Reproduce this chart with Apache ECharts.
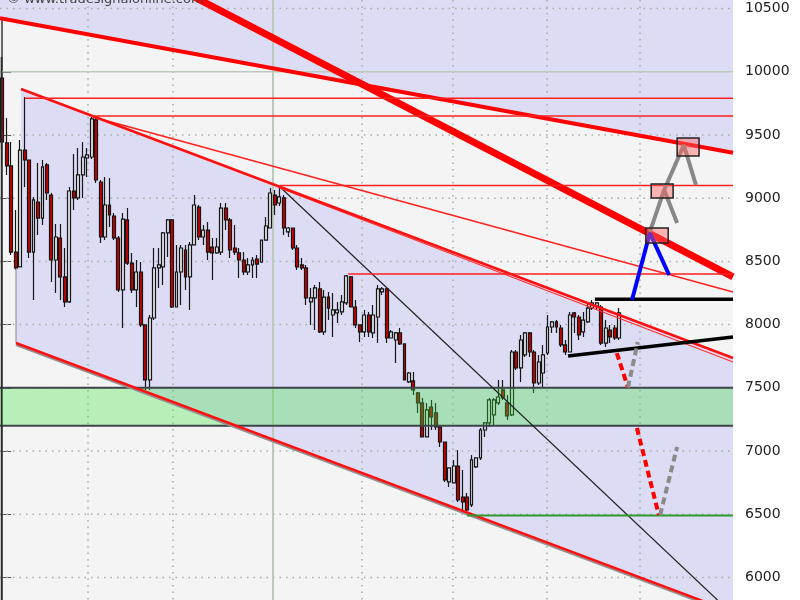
<!DOCTYPE html>
<html><head><meta charset="utf-8">
<script src="https://cdn.jsdelivr.net/npm/echarts@6/dist/echarts.min.js"></script>
<style>html,body{margin:0;padding:0;background:#fff}#c{width:800px;height:600px}</style>
</head><body><div id="c"></div>
<script>
// ---- candle data (one per session) ----
const opens  = [9951,9437,9255,8574,8456,9381,9302,8574,8970,8843,9263,9025,8511,8685,8377,8179,9057,9002,9184,9318,9326,9619,9128,8693,8946,8859,8685,8274,8828,8487,8274,8416,7997,7562,8052,8448,8456,8725,8828,8139,8416,8590,8377,8630,8930,8693,8748,8614,8567,8574,8922,8828,8606,8567,8511,8416,8472,8519,8495,8669,8764,9025,8962,9002,8733,8764,8606,8472,8448,8179,8211,8282,7942,8218,8076,8092,8100,8171,8377,8139,7997,7942,8076,7934,8060,8258,8282,7894,7878,7934,7847,7546,7554,7459,7380,7111,7348,7301,7190,7071,6755,6747,6881,6636,6636,6573,6874,6945,7166,7222,7285,7380,7483,7380,7285,7783,7657,7760,7934,7783,7538,7617,7775,7981,8021,7973,7839,7783,8092,8060,7942,8021,8131,8147,8139,7854,7957,7973,7894];
const highs  = [10117,9635,9445,8907,9460,9801,9302,9010,9279,9302,9279,9041,8796,8796,8606,9089,9350,9397,9445,9397,9642,9635,9144,9168,9160,8883,8701,8883,8922,8567,8511,8495,7997,8076,8606,8606,8733,8836,8836,8630,8630,8630,8654,9025,8946,8788,8812,8685,8685,8962,8962,8843,8788,8606,8574,8527,8535,8551,8669,8851,9081,9065,9089,9025,8772,8764,8630,8527,8472,8290,8313,8337,8274,8258,8250,8179,8234,8393,8385,8195,7997,8116,8100,8155,8313,8298,8290,7957,7942,7973,7847,7625,7625,7467,7419,7380,7404,7380,7190,7071,6866,6929,7008,6850,6668,6969,6945,7182,7230,7419,7419,7562,7562,7443,7799,7799,7918,7942,7942,7799,7760,7839,8076,8029,8036,7997,7878,8100,8100,8076,8100,8171,8195,8179,8155,8036,7997,7997,8131];
const lows   = [9381,9184,8551,8432,8456,9089,8527,8195,8709,8788,8986,8337,8250,8195,8139,8171,8907,8986,9002,9168,9310,9120,8646,8669,8772,8669,8258,7973,8472,8250,8139,7981,7483,7483,8036,8290,8313,8535,8131,8139,8155,8274,8116,8630,8669,8630,8511,8353,8560,8551,8748,8527,8551,8369,8393,8393,8369,8369,8487,8669,8764,8867,8938,8709,8693,8590,8432,8432,8155,7997,7957,7934,7918,8036,7902,8013,8076,8155,8139,7973,7862,7902,7902,7894,7854,8234,7854,7894,7696,7839,7562,7538,7443,7301,7111,7111,7166,7166,7031,6755,6716,6747,6597,6518,6518,6557,6866,6929,7111,7190,7206,7364,7404,7246,7277,7641,7546,7744,7744,7459,7522,7498,7760,7934,7934,7823,7760,7783,7934,7878,7902,8013,8116,8116,7839,7823,7854,7878,7878];
const closes = [9445,9255,8574,8448,9381,9302,8574,8986,8843,9247,9041,8511,8693,8377,8179,9057,9002,9184,9326,9342,9627,9144,8693,8946,8867,8685,8274,8835,8487,8274,8416,7997,7562,8052,8448,8472,8725,8828,8139,8416,8606,8377,8630,8946,8693,8748,8574,8567,8614,8922,8828,8590,8574,8511,8416,8472,8511,8479,8669,8780,9041,8946,9010,8764,8764,8606,8456,8448,8211,8211,8290,7942,8218,8131,8116,8116,8179,8385,8139,7997,7942,8076,7942,8076,8282,8282,7894,7942,7934,7847,7562,7617,7483,7380,7111,7325,7269,7190,7071,6771,6866,6881,6612,6597,6533,6929,6945,7166,7222,7404,7404,7427,7419,7277,7783,7657,7878,7934,7783,7538,7704,7760,7981,8021,7981,7839,7783,8076,8060,7918,8036,8131,8171,8171,7854,7973,7902,7894,8092];

// ---- axis ----
const yMin = 5821, yMax = 10568;
const xMin = -0.5, xMax = 163.5;
const priceTicks = [6000,6500,7000,7500,8000,8500,9000,9500,10000,10500];
const dottedLevels = [6000,6500,7000,7500,8000,8500,9000,9500,10500];
const solidLevels = [10000];
const monthLines = [19.19, 38.2, 80.5, 100.85, 121.9, 142.7];
const yearLines = [60.58];

// ---- drawings (session index, price) ----
const topZone = [[-0.5,10423],[163.5,9359],[163.5,10568],[-0.5,10568]];
const channelZone = [[4.2,9864],[163.5,7736],[163.5,5723],[3.08,7854],[3.08,8448],[4.2,8448]];
const upperRedLine = [[-0.5,10423],[163.5,9359]];
const steepRedLine = [[30,10830],[163.5,8377]];
const channelTop = [[4.2,9864],[163.5,7736]];
const channelTop2 = [[62.1,9081],[163.5,7704]];
const fanLine = [[20.3,9642],[163.5,8258]];
const channelBottom = [[3.08,7854],[163.5,5723]];
const channelBottomShadow = [[3.08,7838],[163.5,5707]];
const channelEdge = [[3.08,8448],[3.08,7854]];
const leftEdge = [[-0.16,10117],[-0.16,5700]];
const diagBlack = [[62.4,9081],[163.5,5705]];
const hLevels = [9790, 9650, 9100, 8400];
const hStarts = [5, 20.3, 62.1, 77.4];
const supportLevel = 6490, supportStart = 104;
const breakoutLevel = 8200, breakoutStart = 132.6;
const risingSupport = [[126.6,7752],[163.5,7902]];
const greenZone = [7200, 7500];
const bluePath = [[140.9,8195],[144.9,8725],[149.2,8392]];
const greyPath1 = [[144.9,8733],[148.1,9065],[152.5,9421],[155.2,9105]];
const greyPath2 = [[148.1,9065],[151.0,8804]];
const redDash1 = [[137.5,7775],[140.0,7502]];
const redDash2 = [[142.0,7182],[146.9,6494]];
const greyDash1 = [[140.0,7502],[142.2,7862]];
const greyDash2 = [[147.2,6494],[151.0,7032]];
const targetBoxes = [[144.0,8764,149.0,8646],[145.2,9112,150.1,9002],[151.0,9476,155.9,9334]];

const candleData = opens.map((o,i)=>[i, o, closes[i], lows[i], highs[i]]);

function seg(data, color, width, z, dash) {
  return {type:'line', data:data, symbol:'none', showSymbol:false, z:z, silent:true, clip:true,
    lineStyle:{color:color, width:width, type: dash || 'solid', cap:'butt'}};
}
function polySeries(polys, color, z) {
  return {type:'custom', z:z, silent:true,
    data: polys.map((p,i)=>[p[0][0], p[0][1], i]),
    renderItem: function(params, api){
      const pts = polys[params.dataIndex].map(p=>api.coord(p));
      return {type:'polygon', shape:{points:pts}, style:{fill:color}};
    }};
}
function hGridSeries(levels, style, z) {
  return {type:'custom', z:z, silent:true, data: levels.map(v=>[0,v]),
    renderItem: function(params, api){
      const cs = params.coordSys; const y = api.coord([0, api.value(1)])[1];
      return {type:'line', shape:{x1:cs.x, y1:y, x2:cs.x+cs.width, y2:y}, style:style};
    }};
}
function vGridSeries(xs, style, z) {
  return {type:'custom', z:z, silent:true, data: xs.map(v=>[v,8000]),
    renderItem: function(params, api){
      const cs = params.coordSys; const x = api.coord([api.value(0), 8000])[0];
      return {type:'line', shape:{x1:x, y1:cs.y, x2:x, y2:cs.y+cs.height}, style:style};
    }};
}

const series = [
  polySeries([topZone, channelZone], '#dcdcf4', 1),
  hGridSeries(dottedLevels, {stroke:'#a4b0a4', lineWidth:1.5, lineDash:[1.5,5]}, 2),
  vGridSeries(monthLines, {stroke:'#a4b0a4', lineWidth:1.5, lineDash:[1.5,5]}, 2),
  hGridSeries(solidLevels, {stroke:'#bccabc', lineWidth:1.5}, 2),
  vGridSeries(yearLines, {stroke:'#bccabc', lineWidth:2}, 2),
  {type:'candlestick', z:3, silent:true, data:candleData, encode:{x:0, y:[1,2,3,4]}, barWidth:3.4,
    itemStyle:{color:'#e2e2ec', color0:'#c40000', borderColor:'#151515', borderColor0:'#151515', borderWidth:1.2}},
  {type:'custom', z:4, silent:true, data:[[xMin, greenZone[1], xMax, greenZone[0]]],
    renderItem: function(params, api){
      const p1 = api.coord([api.value(0), api.value(1)]);
      const p2 = api.coord([api.value(2), api.value(3)]);
      return {type:'group', children:[
        {type:'rect', shape:{x:p1[0], y:p1[1], width:p2[0]-p1[0], height:p2[1]-p1[1]}, style:{fill:'rgba(60,230,60,0.32)'}},
        {type:'line', shape:{x1:p1[0], y1:p1[1], x2:p2[0], y2:p1[1]}, style:{stroke:'#3c4448', lineWidth:2}},
        {type:'line', shape:{x1:p1[0], y1:p2[1], x2:p2[0], y2:p2[1]}, style:{stroke:'#3c4448', lineWidth:2}}
      ]};
    }},
  seg(leftEdge, '#2a2a2a', 1.5, 5),
  seg(channelEdge, '#8a8a8a', 1, 5),
  seg(diagBlack, '#222222', 1.2, 5),
  seg(channelBottomShadow, '#909090', 2, 5),
  seg(channelBottom, '#ff1010', 2.5, 5),
  seg(fanLine, '#ff2020', 1.5, 5),
  seg(channelTop2, '#ff3030', 1.2, 5),
  seg(channelTop, '#ff1010', 2.6, 5),
  seg(upperRedLine, '#ff0000', 4, 5),
  seg(steepRedLine, '#ff0000', 7, 5)
];
hLevels.forEach((v,i)=>series.push(seg([[hStarts[i], v],[xMax, v]], '#ff2020', 1.5, 5)));
series.push(seg([[supportStart, supportLevel],[xMax, supportLevel]], '#2e9a2e', 2, 5));
series.push(seg([[breakoutStart, breakoutLevel],[xMax, breakoutLevel]], '#000000', 3.5, 6));
series.push(seg(risingSupport, '#000000', 3.5, 6));
series.push(seg(redDash1, '#ff0000', 4, 6, [7,4]));
series.push(seg(redDash2, '#ff0000', 4, 6, [7,4]));
series.push(seg(greyDash1, '#8a8a8a', 4, 6, [7,4]));
series.push(seg(greyDash2, '#8a8a8a', 4, 6, [7,4]));
series.push(seg(bluePath, '#0000ff', 4, 6));
series.push(seg(greyPath1, '#888888', 4, 6));
series.push(seg(greyPath2, '#888888', 4, 6));
series.push({type:'custom', z:7, silent:true, data:targetBoxes,
  renderItem: function(params, api){
    const p1 = api.coord([api.value(0), api.value(1)]);
    const p2 = api.coord([api.value(2), api.value(3)]);
    return {type:'rect', shape:{x:p1[0], y:p1[1], width:p2[0]-p1[0], height:p2[1]-p1[1]},
      style:{fill:'rgba(255,100,100,0.45)', stroke:'#222', lineWidth:1.5}};
  }});

const chart = echarts.init(document.getElementById('c'), null, {renderer:'canvas'});
chart.setOption({
  animation:false,
  backgroundColor:'#ffffff',
  grid:{left:0, right:67, top:0, bottom:0, show:true, backgroundColor:'#f4f4f4', borderWidth:0},
  xAxis:{type:'value', min:xMin, max:xMax, show:false},
  yAxis:{type:'value', position:'right', min:yMin, max:yMax,
    axisLine:{show:true, lineStyle:{color:'#3a3a3a', width:1.5}},
    axisTick:{show:true, inside:false, length:9, customValues:priceTicks, lineStyle:{color:'#555'}},
    axisLabel:{show:true, customValues:priceTicks, margin:12, color:'#222', fontSize:14, fontFamily:'DejaVu Sans',
      formatter:function(v){ return String(v); }},
    splitLine:{show:false}},
  graphic:[{type:'text', left:7, top:-7, z:100, style:{text:'© www.tradesignalonline.com', fill:'#444', font:'13px "DejaVu Sans"'}}],
  series:series
});
</script></body></html>
